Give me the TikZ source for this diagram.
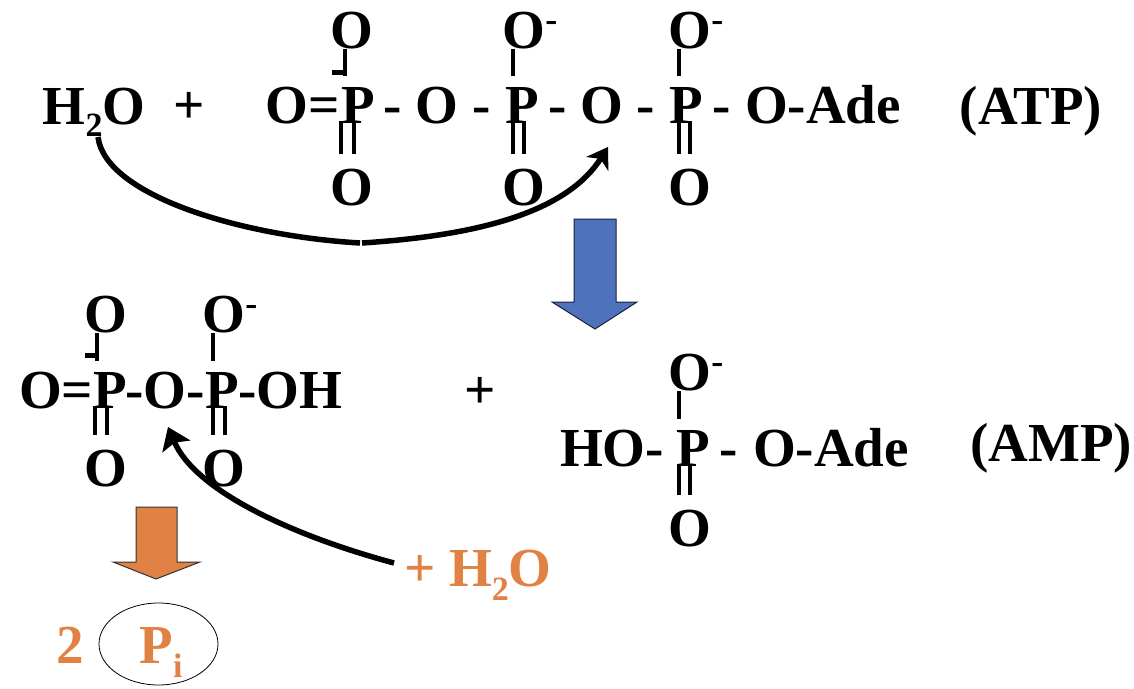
\documentclass[tikz,border=0pt]{standalone}
\usepackage{fontspec}
\setmainfont{Liberation Serif}
\usetikzlibrary{arrows.meta,shapes.geometric}
\definecolor{MyOrange}{HTML}{E08243}
\definecolor{MyBlue}{HTML}{4F72BD}
\newcommand{\subs}[2][12]{\raisebox{-#1pt}{\fontsize{34}{34}\selectfont #2}}
\newcommand{\minus}{\raisebox{17pt}{\fontsize{36}{36}\selectfont -}}
\tikzset{
    chem/.style={inner sep=0pt,outer sep=0pt,anchor=base,font=\fontsize{55}{55}\selectfont\bfseries},
    chemor/.style={chem,text=MyOrange},
    bond/.style={line width=4.5pt,black},
    bondd/.style={line width=3.8pt,black},
    curve/.style={line width=5.5pt,black},
    attack/.style={curve,-{Stealth[length=20pt,width=26pt,inset=6pt]}},
    attackb/.style={curve,-{Stealth[length=21pt,width=30pt,inset=4pt]}},
    bigarrow/.style={line width=1pt}
}

\begin{document}
\begin{tikzpicture}[x=1pt,y=-1pt]
    \useasboundingbox (0,0) rectangle (1134,688);

    % ATP row
    \node[chem] (water) at (94,124) {H\subs{2}O};
    \node[chem] (plusa) at (189,123) {+};
    \node[chem,anchor=base east] (oa) at (340,123) {O=};
    \node[chem] (pa) at (358,123) {P};
    \node[chem] (da) at (393,123) {-};
    \node[chem] (ob) at (437,123) {O};
    \node[chem] (db) at (482,123) {-};
    \node[chem] (pb) at (522,123) {P};
    \node[chem] (dc) at (558,123) {-};
    \node[chem] (oc) at (602,123) {O};
    \node[chem] (dd) at (646,123) {-};
    \node[chem] (pc) at (686,123) {P};
    \node[chem] (de) at (722,123) {-};
    \node[chem,anchor=base west] (adea) at (745,123) {O-Ade};
    \node[chem] (atp) at (1031,124) {(ATP)};
    \node[chem] (ota) at (352,48) {O};
    \node[chem] (otb) at (530,48) {O\minus};
    \node[chem] (otc) at (696,48) {O\minus};
    \node[chem] (oba) at (352,205) {O};
    \node[chem] (obb) at (524,205) {O};
    \node[chem] (obc) at (690,205) {O};

    % ADP part
    \node[chem,anchor=base west] (oe) at (19,408) {O=};
    \node[chem] (pd) at (110,408) {P};
    \node[chem] (dg) at (165,408) {-O-};
    \node[chem] (pe) at (222,408) {P};
    \node[chem,anchor=base west] (oh) at (238,408) {-OH};
    \node[chem] (plusb) at (480,408) {+};
    \node[chem] (otd) at (106,332) {O};
    \node[chem] (ote) at (230,332) {O\minus};
    \node[chem] (obd) at (106,486) {O};
    \node[chem] (obe) at (224,486) {O};

    % AMP part
    \node[chem,anchor=base west] (ho) at (560,466) {HO-};
    \node[chem] (pf) at (693,466) {P};
    \node[chem] (df) at (729,466) {-};
    \node[chem,anchor=base west] (adeb) at (753,466) {O-Ade};
    \node[chem] (amp) at (1051,461) {(AMP)};
    \node[chem] (otf) at (696,390) {O\minus};
    \node[chem] (obf) at (690,546) {O};

    % bonds
    \foreach \p/\t/\b/\u/\v/\w in {pa/ota/oba/-13/-17/-4,pb/otb/obb/-9/-9/2,pc/otc/obc/-7/-7/4,
        pd/otd/obd/-13/-15/-3,pe/ote/obe/-9/-9/3,pf/otf/obf/-14/-14/-3} {
        \draw[bond,shorten <=11pt] ([xshift=\u pt]\p.north) -- ([xshift=\u pt]\p.north |- \t.south);
        \draw[bondd,shorten <=-2pt,shorten >=15pt] ([xshift=\v pt]\p.south) -- ([xshift=\v pt]\p.south |- \b.north);
        \draw[bondd,shorten <=-2pt,shorten >=15pt] ([xshift=\w pt]\p.south) -- ([xshift=\w pt]\p.south |- \b.north);
    }
    \draw[bond] ([xshift=-26pt,yshift=14.5pt]pa.north) -- ([xshift=-11pt,yshift=14.5pt]pa.north);
    \draw[bond] ([xshift=-25pt,yshift=16.5pt]pd.north) -- ([xshift=-11pt,yshift=16.5pt]pd.north);

    % block arrows
    \draw[bigarrow,draw=black!70!MyBlue,fill=MyBlue] (574,219) -- (616,219) -- (616,302) -- (637,302) -- (595,329) -- (552,302) -- (574,302) -- cycle;
    \draw[bigarrow,draw=black!80,fill=MyOrange] (136,507) -- (177,507) -- (177,562) -- (200,562) -- (156,579) -- (113,562) -- (136,562) -- cycle;

    % attack arrows
    \coordinate (start) at (98,137);
    \coordinate (meet) at (360,243);
    \coordinate (meetb) at (362,243);
    \coordinate (tipa) at (608,147);
    \draw[curve] (start) .. controls (105,195) and (240,236) .. (meet);
    \draw[attack] (meetb) .. controls (470,236) and (565,215) .. (tipa);
    \coordinate (from) at (394,563);
    \coordinate (tipb) at (168,427);
    \draw[attackb] (from) .. controls (290,535) and (195,490) .. (tipb);

    % products in orange
    \node[chemor,anchor=base west] (waterb) at (404,586) {+ H\subs[14]{2}O};
    \node[chemor] (two) at (70,663) {2};
    \node[draw=black,line width=0.8pt,ellipse,minimum width=119pt,minimum height=82pt,inner sep=0pt] (circ) at (158.5,644) {};
    \node[chemor] (pi) at (161,663) {P\subs[14]{i}};
\end{tikzpicture}
\end{document}
